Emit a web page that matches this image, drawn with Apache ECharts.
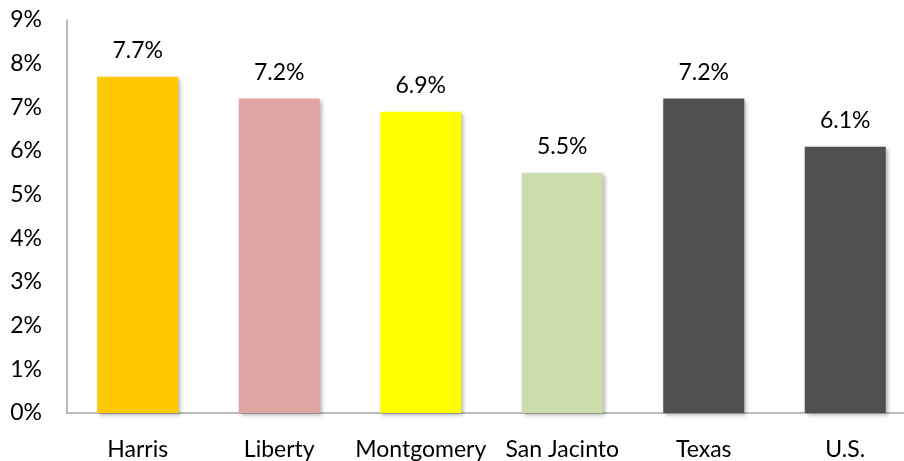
<!DOCTYPE html>
<html><head><meta charset="utf-8">
<script src="https://cdn.jsdelivr.net/npm/echarts@6/dist/echarts.min.js"></script>
<style>html,body{margin:0;padding:0;background:#fff}#c{width:904px;height:461px}</style>
</head><body><div id="c"></div>
<script>
const categories = ["Harris","Liberty","Montgomery","San Jacinto","Texas","U.S."];
const values = [7.7, 7.2, 6.9, 5.5, 7.2, 6.1];
const colors = ["#FFC800","#E0A5A3","#FFFF00","#CDDCAB","#505050","#505050"];
const yTicks = [0,1,2,3,4,5,6,7,8,9];

const FONT = "Lato";
const chart = echarts.init(document.getElementById('c'));
chart.setOption({
  animation:false,
  grid:{left:67, top:20, width:849, bottom:48, containLabel:false, outerBoundsMode:'none'},
  xAxis:{type:'category', data:categories,
    axisLine:{lineStyle:{color:'#A6A6A6', width:1.5}},
    axisTick:{show:false},
    axisLabel:{color:'#000', fontSize:23, fontFamily:FONT, margin:25, interval:0}},
  yAxis:{type:'value', min:yTicks[0], max:yTicks[yTicks.length-1], interval:1,
    axisLine:{show:true, lineStyle:{color:'#A6A6A6', width:1.5}},
    axisTick:{show:false}, splitLine:{show:false},
    axisLabel:{color:'#000', fontSize:23, fontFamily:FONT, margin:25, padding:[4,0,0,0], formatter:v=>v+'%'}},
  series:[{type:'bar', barWidth:81,
    data:values.map((v,i)=>({value:v, itemStyle:{color:colors[i]}})),
    itemStyle:{shadowBlur:4, shadowOffsetX:2, shadowOffsetY:2, shadowColor:'rgba(0,0,0,0.3)'},
    label:{show:true, position:'top', distance:15, color:'#000', fontSize:23, fontFamily:FONT,
      formatter:p=>p.value.toFixed(1)+'%'}}]
});
</script></body></html>
